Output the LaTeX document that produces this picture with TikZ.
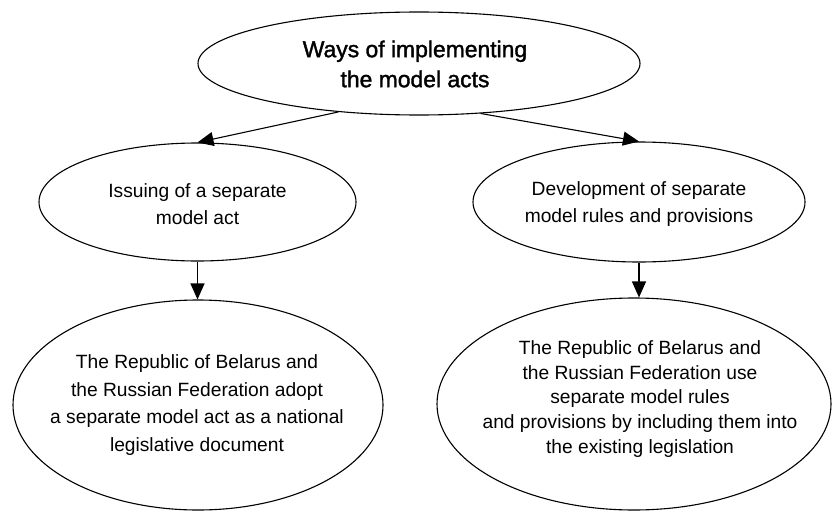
\documentclass[tikz,border=0pt]{standalone}
\usepackage{fontspec}
\setmainfont{Liberation Sans}
\newfontface\ttlfont{Liberation Sans}[FakeBold=1.6]
\usetikzlibrary{shapes.geometric,arrows.meta}
\begin{document}
\begin{tikzpicture}[x=1pt,y=-1pt,
  oval/.style={draw,ellipse,line width=1.1pt,inner sep=0pt},
  lbl/.style={align=center,inner sep=0pt,font=\fontsize{19.2}{26.8}\selectfont},
  conn/.style={line width=1.1pt,-{Triangle[length=16pt,width=14pt]}}]
\useasboundingbox (0,0) rectangle (832,511);
\node[oval,minimum width=442pt,minimum height=103pt] (top) at (419,63.5) {};
\node[oval,minimum width=317pt,minimum height=118pt] (L1) at (197.5,202) {};
\node[oval,minimum width=332pt,minimum height=120pt] (R1) at (639,202) {};
\node[oval,minimum width=370pt,minimum height=210pt] (L2) at (198,405) {};
\node[oval,minimum width=394pt,minimum height=212pt] (R2) at (634,404) {};
\node[lbl,font=\ttlfont\fontsize{22.9}{30}\selectfont] (ttop) at (415,64) {Ways of implementing\\the model acts};
\node[lbl] (tL1) at (197.5,204) {Issuing of a separate\\model act};
\node[lbl] (tR1) at (639,204) {Development of separate\\model rules and provisions};
\node[lbl,font=\fontsize{19.2}{27.7}\selectfont] (tL2) at (197,405) {The Republic of Belarus and\\the Russian Federation adopt\\a separate model act as a national\\legislative document};
\node[lbl,font=\fontsize{19.2}{24.8}\selectfont] (tR2) at (640,399) {The Republic of Belarus and\\the Russian Federation use\\separate model rules\\and provisions by including them into\\the existing legislation};
\draw[conn] (top.211.3) -- (L1.north);
\draw[conn] (top.321.2) -- (R1.north);
\draw[conn] (L1.south) -- (L1.south |- L2.north);
\draw[conn] (R1.south) -- (R1.south |- R2.north);
\end{tikzpicture}
\end{document}
